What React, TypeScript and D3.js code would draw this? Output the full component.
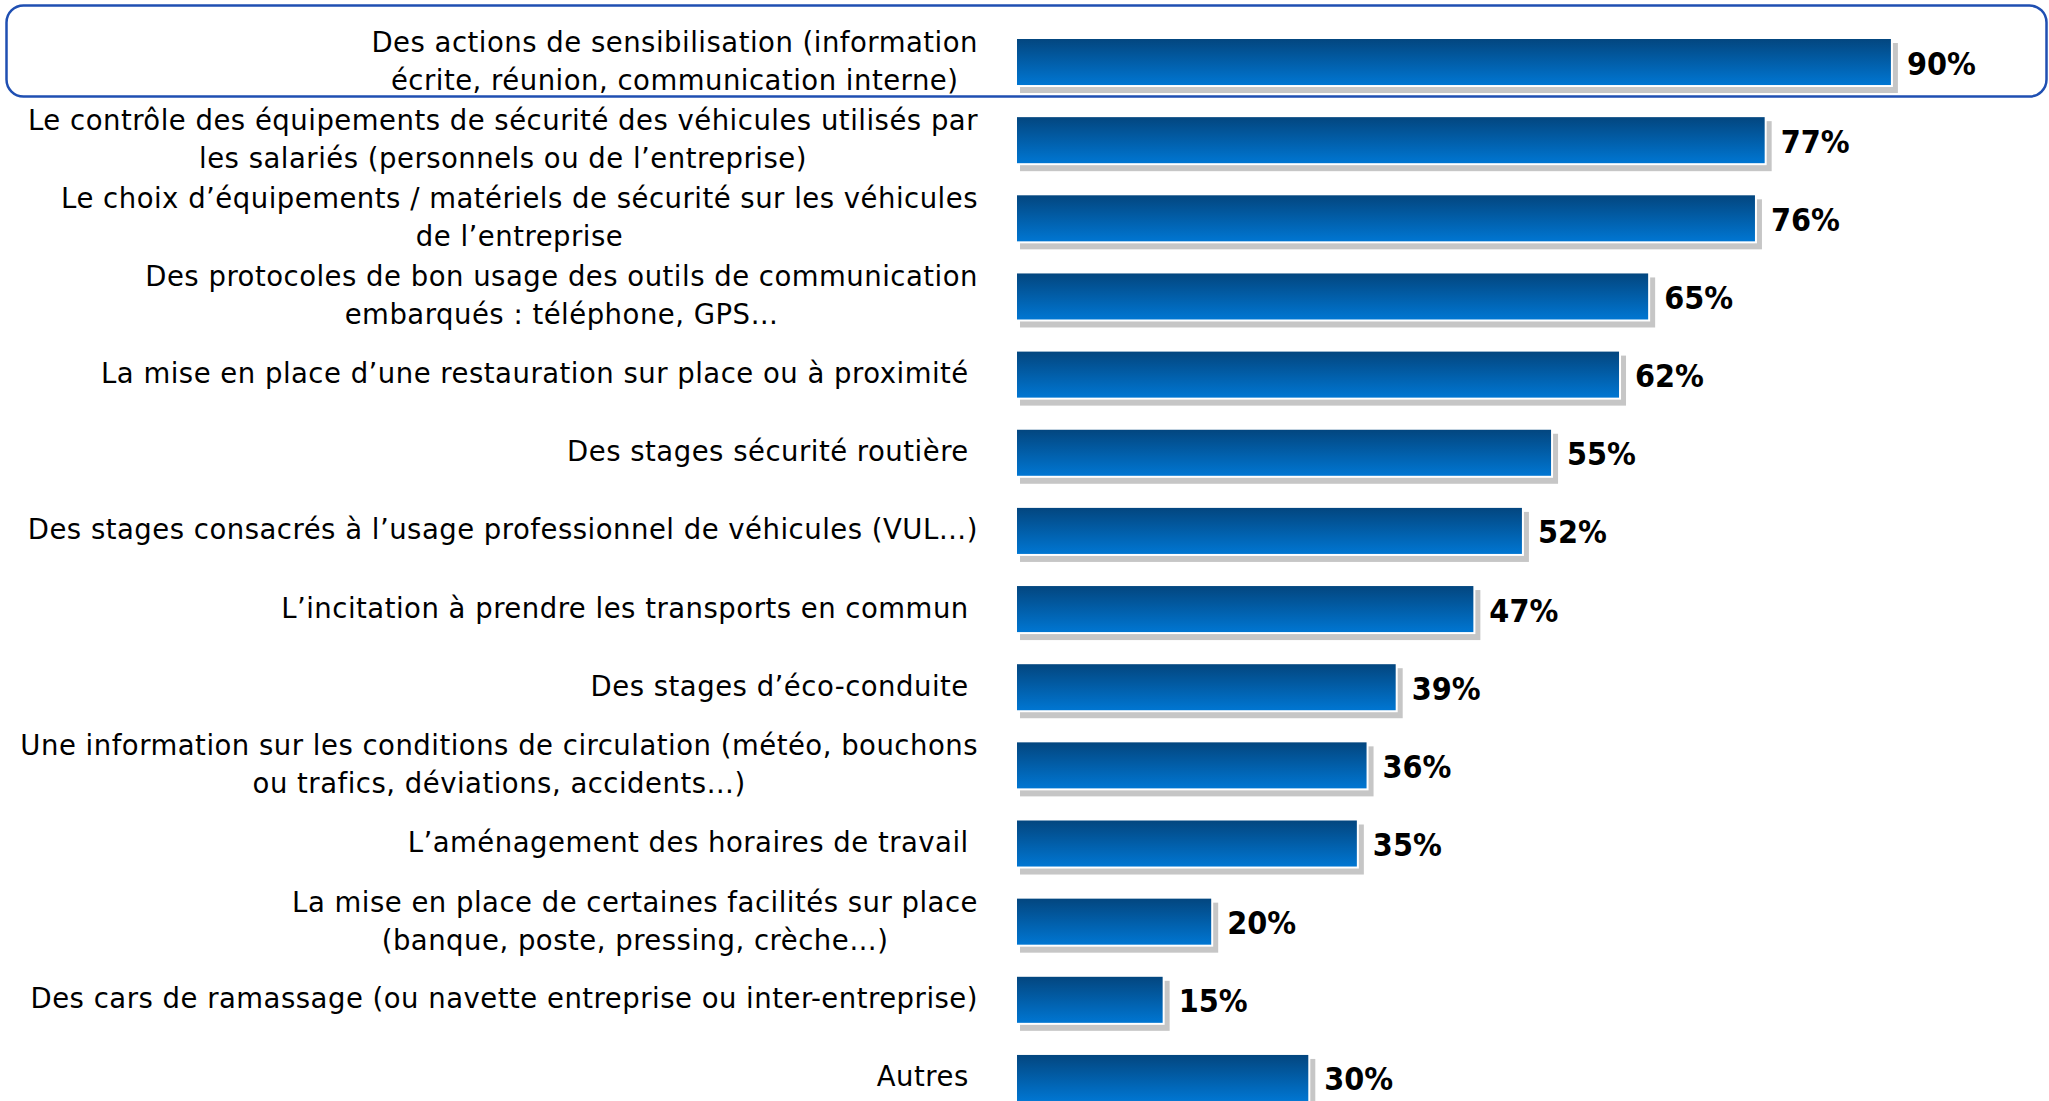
import React, { useEffect, useRef } from "react";
import * as d3 from "d3";

const categories: string[][] = [
  ["Des actions de sensibilisation (information", "écrite, réunion, communication interne)"],
  ["Le contrôle des équipements de sécurité des véhicules utilisés par", "les salariés (personnels ou de l’entreprise)"],
  ["Le choix d’équipements / matériels de sécurité sur les véhicules", "de l’entreprise"],
  ["Des protocoles de bon usage des outils de communication", "embarqués : téléphone, GPS…"],
  ["La mise en place d’une restauration sur place ou à proximité "],
  ["Des stages sécurité routière "],
  ["Des stages consacrés à l’usage professionnel de véhicules (VUL…)"],
  ["L’incitation à prendre les transports en commun "],
  ["Des stages d’éco-conduite "],
  ["Une information sur les conditions de circulation (météo, bouchons", "ou trafics, déviations, accidents…)"],
  ["L’aménagement des horaires de travail "],
  ["La mise en place de certaines facilités sur place", "(banque, poste, pressing, crèche…)"],
  ["Des cars de ramassage (ou navette entreprise ou inter-entreprise)"],
  ["Autres "],
];

const values: number[] = [90, 77, 76, 65, 62, 55, 52, 47, 39, 36, 35, 20, 15, 30];

const valueLabels: string[] = values.map((v) => `${v}%`);

const W = 2049;
const H = 1101;

export default function App() {
  const ref = useRef<SVGSVGElement | null>(null);

  useEffect(() => {
    document.body.style.margin = "0";
    document.body.style.overflow = "hidden";
    const svg = d3.select(ref.current!);
    svg.selectAll("*").remove();

    const ids = categories.map((_, i) => String(i));
    const step = 78.15;
    const pad = 0.411;
    const y0 = 39 - (step * pad) / 2;
    const y = d3
      .scaleBand<string>()
      .domain(ids)
      .range([y0, y0 + step * ids.length])
      .paddingInner(pad)
      .paddingOuter(pad / 2);
    const x = d3.scaleLinear().domain([0, 100]).range([1017, 1017 + 971]);

    const defs = svg.append("defs");
    const grad = defs
      .append("linearGradient")
      .attr("id", "barGrad")
      .attr("x1", 0)
      .attr("y1", 0)
      .attr("x2", 0)
      .attr("y2", 1);
    grad.append("stop").attr("offset", "0%").attr("stop-color", "#03467f");
    grad.append("stop").attr("offset", "100%").attr("stop-color", "#0076d2");

    // highlight box
    svg
      .append("rect")
      .attr("x", 6.5)
      .attr("y", 5.5)
      .attr("width", 2040)
      .attr("height", 91)
      .attr("rx", 17)
      .attr("ry", 17)
      .attr("fill", "none")
      .attr("stroke", "#1f4fb2")
      .attr("stroke-width", 2.5);

    const bw = y.bandwidth();
    const g = svg.append("g");
    const labelFont = "'DejaVu Sans', sans-serif";
    const labelSize = 27.5;
    const labelSpacing = 0.5;
    ids.forEach((id, i) => {
      const top = y(id)!;
      const x0 = x(0);
      const x1 = x(values[i]);
      const cy = top + bw / 2;
      // shadow
      g.append("rect")
        .attr("x", x0 + 3)
        .attr("y", top + 4)
        .attr("width", x1 - x0 + 4)
        .attr("height", bw + 4)
        .attr("fill", "#c6c6c6");
      // white outline
      g.append("rect")
        .attr("x", x0 - 1)
        .attr("y", top - 1)
        .attr("width", x1 - x0 + 3)
        .attr("height", bw + 3)
        .attr("fill", "#ffffff");
      g.append("rect")
        .attr("x", x0)
        .attr("y", top)
        .attr("width", x1 - x0)
        .attr("height", bw)
        .attr("fill", "url(#barGrad)");

      g.append("text")
        .attr("x", x1 + 16)
        .attr("y", cy + 12.5)
        .attr("font-family", "'DejaVu Sans Condensed', 'DejaVu Sans', sans-serif")
        .attr("font-stretch", "condensed")
        .attr("font-weight", "bold")
        .attr("font-size", 32)
        .attr("fill", "#000")
        .text(valueLabels[i]);

      const lines = categories[i];
      const labelRight = 978;
      if (lines.length === 1) {
        g.append("text")
          .attr("x", labelRight)
          .attr("y", cy + 8.5)
          .attr("text-anchor", "end")
          .attr("font-family", labelFont)
          .attr("font-size", labelSize)
          .attr("letter-spacing", labelSpacing)
          .attr("fill", "#000")
          .style("white-space", "pre")
          .text(lines[0]);
      } else {
        const texts = lines.map((ln, k) =>
          g
            .append("text")
            .attr("y", cy + (k === 0 ? -10 : 28))
            .attr("text-anchor", "middle")
            .attr("font-family", labelFont)
            .attr("font-size", labelSize)
            .attr("letter-spacing", labelSpacing)
            .attr("fill", "#000")
            .style("white-space", "pre")
            .text(ln)
        );
        const maxW = d3.max(texts, (t) => (t.node() as SVGTextElement).getComputedTextLength()) || 0;
        texts.forEach((t) => t.attr("x", labelRight - maxW / 2));
      }
    });
  }, []);

  return (
    <svg
      ref={ref}
      width={W}
      height={H}
      style={{ display: "block", background: "#fff" }}
    />
  );
}
